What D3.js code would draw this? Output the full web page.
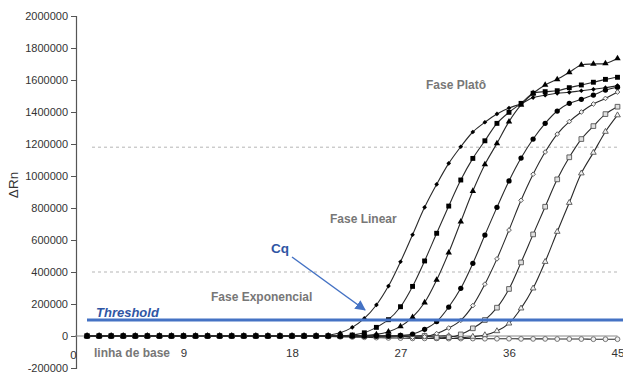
<!DOCTYPE html>
<html>
<head>
<meta charset="utf-8">
<script src="https://cdn.jsdelivr.net/npm/d3@7"></script>
<style>
  html, body { margin: 0; padding: 0; background: #fff; }
  svg { display: block; font-family: "Liberation Sans", Arial, sans-serif; }
</style>
</head>
<body>
<svg id="chart" width="623" height="374"></svg>
<script>
// Amplification cycles
const cycles = [1,2,3,4,5,6,7,8,9,10,11,12,13,14,15,16,17,18,19,20,21,22,23,24,25,26,27,28,29,30,31,32,33,34,35,36,37,38,39,40,41,42,43,44,45];

// ΔRn per cycle for each sample
const sampleA = [0,0,0,0,0,0,0,0,0,0,0,0,0,0,0,0,0,0,0,0,
  5000,20000,54000,110000,194000,312000,464000,633000,804000,948000,1079000,1183000,1275000,1336000,1388000,1425000,1452000,1490000,1505000,1517000,1523000,1533000,1542000,1552000,1565000];
const sampleB = [0,0,0,0,0,0,0,0,0,0,0,0,0,0,0,0,0,0,0,0,0,0,
  6000,20000,54000,102000,183000,310000,469000,642000,812000,975000,1110000,1220000,1329000,1398000,1454000,1517000,1527000,1533000,1552000,1569000,1586000,1604000,1617000];
const sampleC = [0,0,0,0,0,0,0,0,0,0,0,0,0,0,0,0,0,0,0,0,0,0,0,
  3000,10000,27000,60000,118000,209000,350000,521000,714000,906000,1072000,1204000,1340000,1444000,1517000,1569000,1604000,1648000,1694000,1700000,1704000,1735000];
const sampleD = [0,0,0,0,0,0,0,0,0,0,0,0,0,0,0,0,0,0,0,0,0,0,0,0,0,0,
  3000,12000,42000,90000,181000,298000,454000,631000,804000,969000,1112000,1231000,1329000,1406000,1454000,1479000,1506000,1537000,1555000];
const sampleE = [0,0,0,0,0,0,0,0,0,0,0,0,0,0,0,0,0,0,0,0,0,0,0,0,0,0,0,
  -8000,-5000,15000,50000,98000,190000,324000,482000,662000,848000,1011000,1150000,1262000,1340000,1400000,1450000,1485000,1525000];
const sampleF = [0,0,0,0,0,0,0,0,0,0,0,0,0,0,0,0,0,0,0,0,0,0,0,0,0,0,0,0,0,
  -10000,-8000,10000,48000,100000,177000,294000,460000,635000,808000,979000,1117000,1231000,1312000,1387000,1433000];
const sampleG = [0,0,0,0,0,0,0,0,0,0,0,0,0,0,0,0,0,0,0,0,0,0,0,0,0,0,0,0,0,0,0,
  -10000,-4000,6000,31000,79000,173000,298000,464000,652000,833000,1017000,1146000,1277000,1380000];
const sampleNTC = [0,0,0,0,0,0,0,0,0,0,0,0,0,0,0,0,0,0,0,0,
  -3000,-5000,-6000,-8000,-10000,-12000,-13000,
  -15000,-15000,-15000,-16000,-16000,-16000,-17000,-17000,-17000,-18000,-18000,-18000,-19000,-19000,-19000,-20000,-20000,-20000];

// Axis ticks
const xTicks = [0, 9, 18, 27, 36, 45];
const yTicks = [-200000,0,200000,400000,600000,800000,1000000,1200000,1400000,1600000,1800000,2000000];

// Reference levels
const thresholdValue = 100000;
const guideLevels = [400000, 1180000];

const svg = d3.select("#chart");

const x = d3.scaleLinear().domain([0, 45]).range([75, 617.5]);
const y = d3.scaleLinear().domain([-200000, 2000000]).range([368, 16]);

// Dashed guide lines
svg.append("g").selectAll("line").data(guideLevels).join("line")
  .attr("x1", 92).attr("x2", 617)
  .attr("y1", d => y(d)).attr("y2", d => y(d))
  .attr("stroke", "#b5b5b5").attr("stroke-width", 1)
  .attr("stroke-dasharray", "3,3");

// Y axis
const yAxis = svg.append("g")
  .attr("transform", `translate(${x(0) + 1},0)`)
  .call(d3.axisLeft(y).tickValues(yTicks).tickFormat(d => String(d)).tickSize(5).tickPadding(3));
yAxis.select(".domain").attr("stroke", "#555").attr("stroke-width", 1.2);
yAxis.selectAll(".tick line").attr("stroke", "#555");
yAxis.selectAll("text").attr("font-size", 11).attr("fill", "#333")
  .attr("font-family", "'Liberation Sans', Arial, sans-serif");

// Zero line
svg.append("line")
  .attr("x1", x(0)).attr("x2", x(45))
  .attr("y1", y(0)).attr("y2", y(0))
  .attr("stroke", "#888").attr("stroke-width", 1);

// X axis labels
const xAxis = svg.append("g")
  .attr("transform", "translate(0,346)")
  .call(d3.axisBottom(x).tickValues(xTicks).tickSize(0).tickPadding(3));
xAxis.select(".domain").remove();
xAxis.selectAll("text").attr("font-size", 11.5).attr("fill", "#333")
  .attr("font-family", "'Liberation Sans', Arial, sans-serif");
xAxis.selectAll(".tick").filter(d => d === 0).select("text").attr("x", -2).attr("y", 5);

// Y axis title
svg.append("text")
  .attr("transform", "translate(18,185) rotate(-90)")
  .attr("text-anchor", "middle")
  .attr("font-size", 13.5).attr("fill", "#333")
  .text("ΔRn");

// Series definitions (diamonds are squares turned 45°)
const series = [
  { values: sampleNTC, symbol: d3.symbolCircle, size: 18, rot: 0, fill: "#f2f2f2", stroke: "#666" },
  { values: sampleG, symbol: d3.symbolTriangle, size: 14, rot: 0, fill: "#f2f2f2", stroke: "#555" },
  { values: sampleF, symbol: d3.symbolSquare, size: 22, rot: 0, fill: "#e0e0e0", stroke: "#555" },
  { values: sampleE, symbol: d3.symbolSquare, size: 11, rot: 45, fill: "#f2f2f2", stroke: "#555" },
  { values: sampleD, symbol: d3.symbolCircle, size: 22, rot: 0, fill: "#000", stroke: "none" },
  { values: sampleC, symbol: d3.symbolTriangle, size: 18, rot: 0, fill: "#000", stroke: "none" },
  { values: sampleA, symbol: d3.symbolSquare, size: 11, rot: 45, fill: "#000", stroke: "none" },
  { values: sampleB, symbol: d3.symbolSquare, size: 24, rot: 0, fill: "#000", stroke: "none" }
];

const line = d3.line()
  .x((d, i) => x(cycles[i]))
  .y(d => y(d))
  .curve(d3.curveCatmullRom.alpha(0.5));

const plot = svg.append("g");
series.forEach(s => {
  const g = plot.append("g");
  g.append("path")
    .attr("d", line(s.values))
    .attr("fill", "none")
    .attr("stroke", "#2a2a2a")
    .attr("stroke-width", 1.1);
  g.selectAll("path.mark").data(s.values).join("path")
    .attr("class", "mark")
    .attr("transform", (d, i) => `translate(${x(cycles[i])},${y(d)}) rotate(${s.rot})`)
    .attr("d", d3.symbol().type(s.symbol).size(s.size))
    .attr("fill", s.fill)
    .attr("stroke", s.stroke)
    .attr("stroke-width", 0.9);
});

// Threshold line
const blue = "#4472C4";
svg.append("line")
  .attr("x1", 87).attr("x2", 623)
  .attr("y1", y(thresholdValue)).attr("y2", y(thresholdValue))
  .attr("stroke", blue).attr("stroke-width", 3);

svg.append("text")
  .attr("x", 96).attr("y", 317)
  .attr("font-size", 13).attr("font-weight", "bold").attr("font-style", "italic")
  .attr("fill", "#2F55A4")
  .text("Threshold");

// Cq annotation with arrow
svg.append("defs").append("marker")
  .attr("id", "arrowhead")
  .attr("viewBox", "0 0 10 10")
  .attr("refX", 9).attr("refY", 5)
  .attr("markerWidth", 7).attr("markerHeight", 7)
  .attr("orient", "auto")
  .append("path").attr("d", "M0,0 L10,5 L0,10 z").attr("fill", blue);

svg.append("line")
  .attr("x1", 292).attr("y1", 257)
  .attr("x2", 365).attr("y2", 310)
  .attr("stroke", blue).attr("stroke-width", 1.5)
  .attr("marker-end", "url(#arrowhead)");

svg.append("text")
  .attr("x", 271).attr("y", 253)
  .attr("font-size", 13.5).attr("font-weight", "bold")
  .attr("fill", "#2F55A4")
  .text("Cq");

// Phase labels
const phaseLabels = [
  { text: "Fase Platô", x: 426, y: 89 },
  { text: "Fase Linear", x: 330, y: 223 },
  { text: "Fase Exponencial", x: 211, y: 301 },
  { text: "linha de base", x: 94, y: 357 }
];
svg.append("g").selectAll("text").data(phaseLabels).join("text")
  .attr("x", d => d.x).attr("y", d => d.y)
  .attr("font-size", 12).attr("font-weight", "bold")
  .attr("fill", "#777")
  .text(d => d.text);
</script>
</body>
</html>
